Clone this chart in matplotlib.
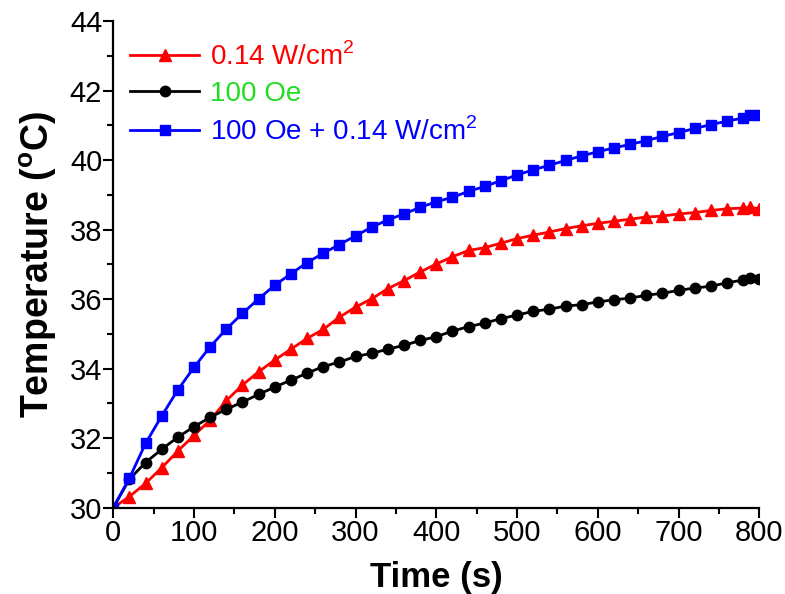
import numpy as np
import matplotlib
matplotlib.use("Agg")
import matplotlib.pyplot as plt
from matplotlib.ticker import MultipleLocator

fam = "Liberation Sans"
plt.rcParams['font.family'] = [fam, 'DejaVu Sans']
plt.rcParams['mathtext.fontset'] = 'custom'
plt.rcParams['mathtext.rm'] = fam
plt.rcParams['mathtext.bf'] = fam + ':bold'

time_s = [0, 20, 40, 60, 80, 100, 120, 140, 160, 180, 200, 220, 240, 260, 280, 300,
          320, 340, 360, 380, 400, 420, 440, 460, 480, 500, 520, 540, 560, 580, 600,
          620, 640, 660, 680, 700, 720, 740, 760, 780, 788, 800]

temp_light = [30.0, 30.32, 30.70, 31.15, 31.63, 32.08, 32.52, 33.08, 33.53, 33.91, 34.25,
              34.56, 34.87, 35.13, 35.48, 35.77, 36.01, 36.30, 36.53, 36.78, 37.01, 37.22,
              37.40, 37.48, 37.61, 37.74, 37.84, 37.93, 38.03, 38.11, 38.18, 38.24, 38.30,
              38.36, 38.39, 38.45, 38.49, 38.55, 38.60, 38.62, 38.64, 38.60]

temp_field = [30.0, 30.82, 31.30, 31.68, 32.03, 32.33, 32.60, 32.83, 33.04, 33.26, 33.47,
              33.67, 33.87, 34.06, 34.19, 34.35, 34.44, 34.56, 34.67, 34.81, 34.92, 35.08,
              35.21, 35.31, 35.44, 35.54, 35.65, 35.71, 35.80, 35.84, 35.92, 35.98, 36.03,
              36.11, 36.17, 36.25, 36.32, 36.37, 36.47, 36.55, 36.62, 36.59]

temp_both = [30.0, 30.85, 31.85, 32.64, 33.39, 34.04, 34.63, 35.14, 35.59, 36.01, 36.40,
             36.73, 37.05, 37.32, 37.57, 37.82, 38.07, 38.28, 38.45, 38.64, 38.80, 38.93,
             39.10, 39.24, 39.41, 39.57, 39.72, 39.85, 39.99, 40.12, 40.24, 40.35, 40.45,
             40.56, 40.68, 40.79, 40.91, 41.02, 41.12, 41.21, 41.29, 41.29]

labels = ["0.14 W/cm$^{2}$", "100 Oe", "100 Oe + 0.14 W/cm$^{2}$"]
line_colors = ["#ff0000", "#000000", "#0000ff"]
text_colors = ["#ff0000", "#22dd22", "#0000ff"]
markers = ["^", "o", "s"]

fig = plt.figure(figsize=(7.85, 5.94), dpi=100)
ax = fig.add_axes([0.1443, 0.1453, 0.823, 0.8193])

series = [temp_light, temp_field, temp_both]
for vals, lab, c, m in zip(series, labels, line_colors, markers):
    ax.plot(time_s, vals, color=c, marker=m, markersize=7.5 if m != "^" else 8.5,
            linewidth=2.0, label=lab, clip_on=True)

ax.set_xlim(0, 800)
ax.set_ylim(30, 44)
ax.xaxis.set_major_locator(MultipleLocator(100))
ax.xaxis.set_minor_locator(MultipleLocator(50))
ax.yaxis.set_major_locator(MultipleLocator(2))
ax.yaxis.set_minor_locator(MultipleLocator(1))
for s in ["top", "right"]:
    ax.spines[s].set_visible(False)
for s in ["left", "bottom"]:
    ax.spines[s].set_linewidth(1.6)
ax.tick_params(which="major", direction="out", length=7, width=1.5, labelsize=21, pad=1)
ax.tick_params(which="minor", direction="out", length=4.3, width=1.5)

ax.set_xlabel("Time (s)", fontsize=25, fontweight="bold", labelpad=10)
ax.set_ylabel(r"Temperature ($\mathbf{^{o}}$C)", fontsize=27, fontweight="bold", labelpad=8)

leg = ax.legend(loc="upper left", frameon=False, fontsize=20, numpoints=1,
                handlelength=2.5, handletextpad=0.4, labelspacing=0.36,
                bbox_to_anchor=(0.0, 0.99), borderaxespad=0.2)
for t, c in zip(leg.get_texts(), text_colors):
    t.set_color(c)

fig.savefig("out.png", dpi=100)
